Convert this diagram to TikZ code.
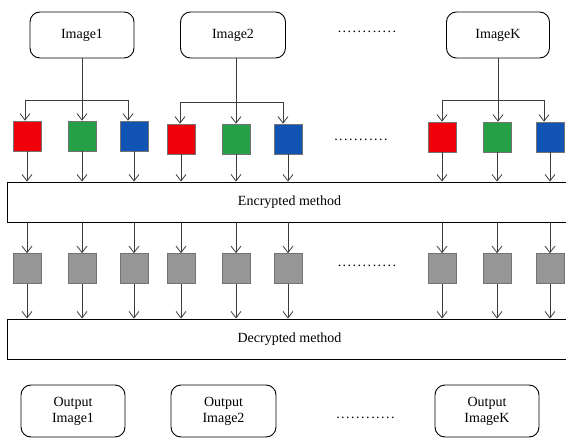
\documentclass[tikz,border=0pt]{standalone}
\usepackage{fontspec}
\setmainfont{Liberation Serif}
\usetikzlibrary{arrows.meta}
\definecolor{sqred}{RGB}{240,0,10}
\definecolor{sqgreen}{RGB}{38,160,70}
\definecolor{sqblue}{RGB}{18,84,180}
\definecolor{sqgray}{RGB}{150,150,150}
\definecolor{linecol}{RGB}{60,60,60}
\newcommand{\dotrow}[1]{\makebox[#1pt]{\leaders\hbox to 5pt{\hss.\hss}\hfill}}
\tikzset{
  imgbox/.style={draw=black, line width=0.9pt, rounded corners=10pt, minimum height=46pt, inner sep=0pt, font=\fontsize{14}{20}\selectfont},
  outbox/.style={imgbox, minimum height=52pt, align=center},
  sq/.style={draw=black!55, line width=0.6pt, minimum width=28pt, minimum height=30pt, inner sep=0pt},
  methodbox/.style={draw=black, line width=0.9pt, minimum width=565pt, minimum height=40pt, inner sep=0pt, font=\fontsize{14}{20}\selectfont},
  conn/.style={draw=linecol, line width=0.8pt},
  arr/.style={conn, -{Straight Barb[length=6.5pt,width=10pt,line width=0.8pt]}},
  dots/.style={inner sep=0pt, font=\fontsize{14}{20}\selectfont}
}
\begin{document}
\begin{tikzpicture}[x=1pt,y=-1pt]
\useasboundingbox (0,0) rectangle (566,439);
% input images
\node[imgbox, minimum width=104pt] (im1) at (82,35) {Image1};
\node[imgbox, minimum width=105pt] (im2) at (233,35) {Image2};
\node[imgbox, minimum width=103pt] (imK) at (498,35) {ImageK};
\node[dots] (dt1) at (367,32) {\dotrow{60}};
% colour squares
\node[sq, fill=sqred]   (r1) at (27,136) {};
\node[sq, fill=sqgreen] (g1) at (82,136) {};
\node[sq, fill=sqblue]  (b1) at (134,136) {};
\node[sq, fill=sqred]   (r2) at (181,139) {};
\node[sq, fill=sqgreen] (g2) at (236,139) {};
\node[sq, fill=sqblue]  (b2) at (288,139) {};
\node[sq, fill=sqred]   (rK) at (442,137) {};
\node[sq, fill=sqgreen] (gK) at (497,137) {};
\node[sq, fill=sqblue]  (bK) at (550,137) {};
\node[dots] (dt2) at (361,140) {\dotrow{55}};
% encrypted
\node[methodbox] (enc) at (289.5,202) {Encrypted method};
% gray squares
\foreach \n/\x in {a/27,b/82,c/134,d/181,e/236,f/288,g/442,h/497,i/550}{
  \node[sq, fill=sqgray] (gr\n) at (\x,268.5) {};
}
\node[dots] (dt3) at (367,266) {\dotrow{60}};
% decrypted
\node[methodbox] (dec) at (289.5,339) {Decrypted method};
% outputs
\node[outbox, minimum width=104pt] (o1) at (73,411) {\raisebox{-3pt}{\shortstack{Output\\[1pt]Image1}}};
\node[outbox, minimum width=105pt] (o2) at (223.5,411) {\raisebox{-3pt}{\shortstack{Output\\[1pt]Image2}}};
\node[outbox, minimum width=104pt] (oK) at (487,411) {\raisebox{-3pt}{\shortstack{Output\\[1pt]ImageK}}};
\node[dots] (dt4) at (367,418) {\dotrow{63}};
% top connectors
\coordinate (j1) at (82,100);
\coordinate (j2) at (236,102);
\coordinate (jK) at (498,100);
\draw[conn] (im1.south) -- (j1);
\draw[conn] ([xshift=3pt]im2.south) -- (j2);
\draw[conn] (imK.south) -- (jK);
\draw[arr] (j1) -| ([xshift=-2pt]r1.north);
\draw[arr] (j1) -- (g1.north);
\draw[arr] (j1) -| ([xshift=-6pt]b1.north);
\draw[arr] (j2) -| ([xshift=-1pt]r2.north);
\draw[arr] (j2) -- (g2.north);
\draw[arr] (j2) -| ([xshift=-5pt]b2.north);
\draw[arr] (jK) -| (rK.north);
\draw[arr] (jK) -- ([xshift=1pt]gK.north);
\draw[arr] (jK) -| ([xshift=-6pt]bK.north);
% squares to encrypted, encrypted to gray, gray to decrypted
\foreach \s/\g in {r1/gra,g1/grb,b1/grc,r2/grd,g2/gre,b2/grf,rK/grg,gK/grh,bK/gri}{
  \draw[arr] (\s.south) -- (\s.south |- enc.north);
  \draw[arr] (\g.north |- enc.south) -- (\g.north);
  \draw[arr] (\g.south) -- (\g.south |- dec.north);
}
\end{tikzpicture}
\end{document}
